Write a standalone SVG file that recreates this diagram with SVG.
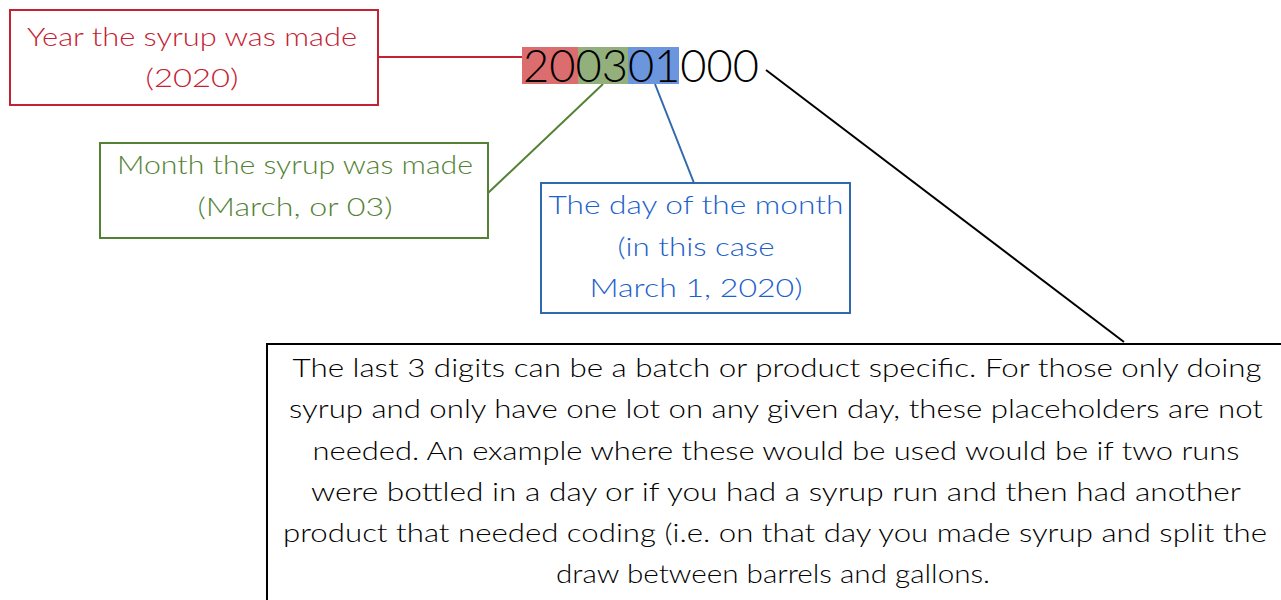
<svg xmlns="http://www.w3.org/2000/svg" width="1281" height="600" viewBox="0 0 1281 600">
<style>
text{font-family:Lato,"Liberation Sans",sans-serif;text-anchor:middle;font-weight:300}
.box{fill:#fff;stroke-width:2}
.red{fill:#c42233}.green{fill:#548235}.blue{fill:#1d5fcb}.blk{fill:#000}
.t1{font-size:26px}
</style>
<rect width="1281" height="600" fill="#fff"/>
<g id="connectors" fill="none" stroke-width="2">
<line x1="378" y1="57" x2="522" y2="57" stroke="#c42233"/>
<line x1="603" y1="84" x2="488" y2="193" stroke="#548235"/>
<line x1="655" y1="84" x2="694" y2="183" stroke="#2e6aad"/>
<line x1="766" y1="70" x2="1124" y2="342" stroke="#000"/>
</g>
<g id="code">
<rect x="522" y="47" width="56" height="37" fill="#dc6d6f"/>
<rect x="578" y="47" width="50" height="37" fill="#93b07c"/>
<rect x="628" y="47" width="51" height="37" fill="#6b95dd"/>
<text x="641" y="82" font-size="46" class="blk" textLength="236" lengthAdjust="spacingAndGlyphs">200301000</text>
</g>
<g id="year">
<rect class="box" x="10" y="10" width="368" height="95" stroke="#c42233"/>
<text class="t1 red" x="192" y="46" textLength="330" lengthAdjust="spacingAndGlyphs">Year the syrup was made</text>
<text class="t1 red" x="192" y="87" textLength="93" lengthAdjust="spacingAndGlyphs">(2020)</text>
</g>
<g id="month">
<rect class="box" x="100" y="143" width="388" height="95" stroke="#548235"/>
<text class="t1 green" x="295" y="174" textLength="356" lengthAdjust="spacingAndGlyphs">Month the syrup was made</text>
<text class="t1 green" x="295" y="216" textLength="195" lengthAdjust="spacingAndGlyphs">(March, or 03)</text>
</g>
<g id="day">
<rect class="box" x="541" y="183" width="309" height="130" stroke="#2e6aad"/>
<text class="t1 blue" x="696" y="214" textLength="295" lengthAdjust="spacingAndGlyphs">The day of the month</text>
<text class="t1 blue" x="696" y="256" textLength="157" lengthAdjust="spacingAndGlyphs">(in this case</text>
<text class="t1 blue" x="696" y="297" textLength="213" lengthAdjust="spacingAndGlyphs">March 1, 2020)</text>
</g>
<g id="note">
<rect class="box" x="267" y="344" width="1020" height="270" stroke="#000"/>
<text class="t1 blk" x="777" y="377" textLength="969" lengthAdjust="spacingAndGlyphs">The last 3 digits can be a batch or product specific. For those only doing</text>
<text class="t1 blk" x="776" y="418" textLength="974" lengthAdjust="spacingAndGlyphs">syrup and only have one lot on any given day, these placeholders are not</text>
<text class="t1 blk" x="776" y="460" textLength="927" lengthAdjust="spacingAndGlyphs">needed. An example where these would be used would be if two runs</text>
<text class="t1 blk" x="776" y="501" textLength="930" lengthAdjust="spacingAndGlyphs">were bottled in a day or if you had a syrup run and then had another</text>
<text class="t1 blk" x="775" y="542" textLength="984" lengthAdjust="spacingAndGlyphs">product that needed coding (i.e. on that day you made syrup and split the</text>
<text class="t1 blk" x="773" y="583" textLength="434" lengthAdjust="spacingAndGlyphs">draw between barrels and gallons.</text>
</g>
</svg>
